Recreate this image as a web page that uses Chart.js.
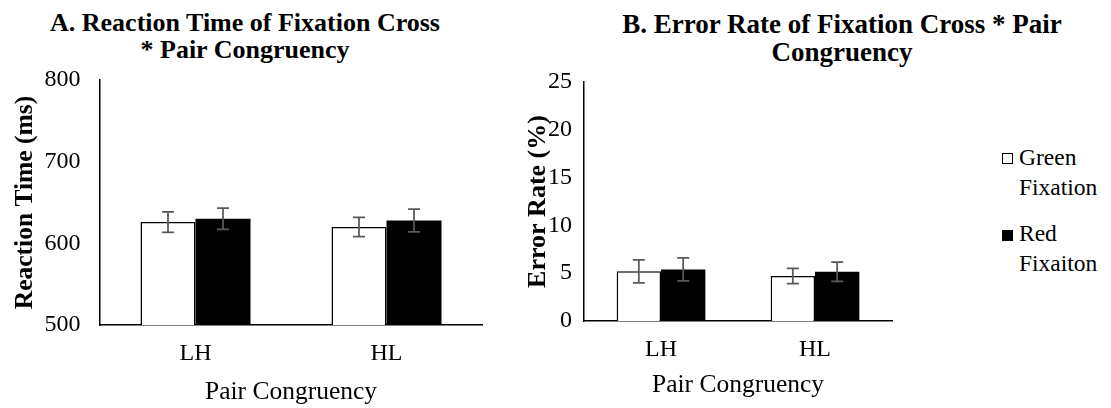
<!DOCTYPE html>
<html>
<head>
<meta charset="utf-8">
<script src="https://cdn.jsdelivr.net/npm/chart.js@4.4.1/dist/chart.umd.min.js"></script>
<style>
  html,body{margin:0;padding:0;background:#fff}
  body{width:1111px;height:408px;position:relative;overflow:hidden;font-family:'Liberation Serif','Times New Roman',serif;color:#000}
  .box{position:absolute;top:0}
  .title{position:absolute;font-weight:bold;font-size:26px;line-height:27px;text-align:center;white-space:nowrap}
  .sw{position:absolute;width:11px;height:11px;box-sizing:border-box;border:1.5px solid #000}
  .lt{position:absolute;width:90px;font-size:23.5px;line-height:30px}
</style>
</head>
<body>
<div class="title" id="tA" style="left:45px;top:9px;width:400px"></div>
<div class="title" id="tB" style="left:592px;top:10px;width:500px;font-size:27px;line-height:28px"></div>
<div class="box" style="left:0"><canvas id="chA" width="500" height="408"></canvas></div>
<div class="box" style="left:500px"><canvas id="chB" width="400" height="408"></canvas></div>
<div id="legend"></div>
<script>
const FONT = "'Liberation Serif', 'Times New Roman', serif"

// series names (legend)
const seriesNames = ['Green Fixation', 'Red Fixaiton']
const categories = ['LH', 'HL']
const xTitle = 'Pair Congruency'

// A. reaction time
const titleA = ['A. Reaction Time of Fixation Cross', '* Pair Congruency']
const rtGreen = [626, 620]
const rtGreenErr = [12.5, 11.7]
const rtRed = [630, 628]
const rtRedErr = [13, 14]
const rtMin = 500, rtMax = 800, rtStep = 100

// B. error rate
const titleB = ['B. Error Rate of Fixation Cross * Pair', 'Congruency']
const erGreen = [5.2, 4.7]
const erGreenErr = [1.2, 0.8]
const erRed = [5.4, 5.15]
const erRedErr = [1.2, 1.0]
const erMin = 0, erMax = 25, erStep = 5

document.getElementById('tA').innerHTML = titleA.join('<br>')
document.getElementById('tB').innerHTML = titleB.join('<br>')

// legend, drawn as html so the names wrap like the original
const leg = document.getElementById('legend')
const legTops = [141.5, 218]
seriesNames.forEach((n,i)=>{
  const sw = document.createElement('div'); sw.className = 'sw'
  sw.style.left = '1002px'; sw.style.top = (legTops[i]+11.5)+'px'
  sw.style.background = i===0 ? '#fff' : '#000'
  const t = document.createElement('div'); t.className = 'lt'
  t.style.left = '1019px'; t.style.top = legTops[i]+'px'; t.textContent = n
  leg.append(sw, t)
})

const errorBars = {
  id:'errorBars',
  afterDatasetsDraw(chart){
    const {ctx} = chart, y = chart.scales.y
    ctx.save()
    ctx.strokeStyle = '#595959'; ctx.lineWidth = 1.75
    chart.data.datasets.forEach((ds,i)=>{
      chart.getDatasetMeta(i).data.forEach((bar,j)=>{
        const v = ds.data[j], e = ds.errors[j]
        const top = y.getPixelForValue(v+e), bot = y.getPixelForValue(v-e), x = bar.x, w = 6
        ctx.beginPath()
        ctx.moveTo(x, top); ctx.lineTo(x, bot)
        ctx.moveTo(x-w, top); ctx.lineTo(x+w, top)
        ctx.moveTo(x-w, bot); ctx.lineTo(x+w, bot)
        ctx.stroke()
      })
    })
    ctx.restore()
  }
}

function makeChart(id, c){
  return new Chart(document.getElementById(id), {
    type:'bar',
    data:{ labels: categories, datasets:[
      { label: seriesNames[0], data: c.green, errors: c.greenErr, backgroundColor:'#fff', borderColor:'#000', borderWidth:1.5 },
      { label: seriesNames[1], data: c.red, errors: c.redErr, backgroundColor:'#000', borderColor:'#000', borderWidth:0 }
    ]},
    options:{
      responsive:false, animation:false, devicePixelRatio:1,
      layout:{ padding:{ top:c.top, right:c.right, left:0, bottom:0 } },
      plugins:{ legend:{display:false}, tooltip:{enabled:false}, title:{display:false} },
      datasets:{ bar:{ categoryPercentage:0.576, barPercentage:1 } },
      scales:{
        x:{
          grid:{display:false, drawTicks:false}, border:{color:'#000', width:1.5},
          ticks:{ color:'#000', font:{family:FONT, size:24}, padding:14 },
          title:{ display:true, text:xTitle, color:'#000', font:{family:FONT, size:25.5}, padding:{top:0, bottom:c.xTitlePad} },
          afterFit: s=>{ s.height = c.xH }
        },
        y:{
          min:c.min, max:c.max,
          grid:{display:false, drawTicks:false}, border:{color:'#000', width:1.5},
          ticks:{ stepSize:c.step, color:'#000', font:{family:FONT, size:24}, padding:c.yPad },
          title:{ display:true, text:c.yTitle, color:'#000', font:{family:FONT, size:c.yTitleSize, weight:'bold'}, padding:{top:c.yTitlePad, bottom:0} },
          afterFit: s=>{ s.width = c.yW }
        }
      }
    },
    plugins:[errorBars]
  })
}

makeChart('chA', { green:rtGreen, greenErr:rtGreenErr, red:rtRed, redErr:rtRedErr,
  min:rtMin, max:rtMax, step:rtStep, yTitle:'Reaction Time (ms)', yTitleSize:25.5, yTitlePad:9.7,
  top:80, right:18, xH:83, yW:100, yPad:19.5, xTitlePad:0.7 })

makeChart('chB', { green:erGreen, greenErr:erGreenErr, red:erRed, redErr:erRedErr,
  min:erMin, max:erMax, step:erStep, yTitle:'Error Rate (%)', yTitleSize:26, yTitlePad:22.4,
  top:82, right:8, xH:87, yW:84, yPad:12, xTitlePad:7.7 })
</script>
</body>
</html>
